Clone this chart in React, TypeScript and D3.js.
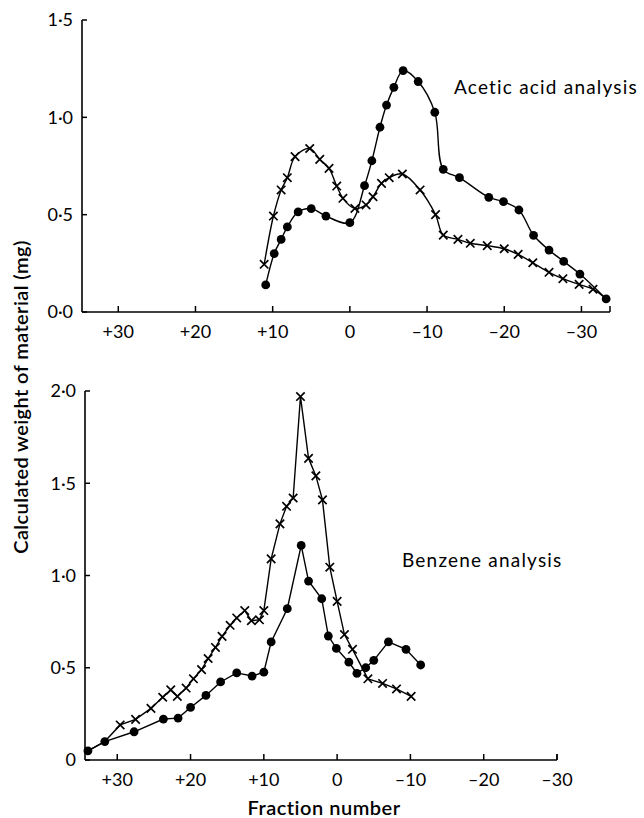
import React from "react";
import * as d3 from "d3";

// ---------- Data ----------
// Top panel: acetic acid analysis (fraction number, mg)
const topCrossX = [11.1, 9.9, 8.9, 8.1, 7.1, 5.2, 3.9, 2.7, 1.7, 0.9, -0.65, -2.1, -3.0, -4.1, -5.1, -6.8, -9.1, -11.1, -12.1, -14.0, -15.6, -17.8, -20.0, -21.8, -23.7, -25.8, -27.6, -29.7, -31.5, -33.2];
const topCrossY = [0.245, 0.493, 0.627, 0.69, 0.798, 0.84, 0.784, 0.738, 0.647, 0.584, 0.532, 0.55, 0.592, 0.661, 0.69, 0.709, 0.627, 0.5, 0.395, 0.373, 0.353, 0.341, 0.325, 0.296, 0.253, 0.204, 0.171, 0.142, 0.117, 0.067];
const topDotX = [10.9, 9.8, 8.9, 8.1, 6.7, 5.0, 3.1, 0, -1.9, -2.85, -3.9, -4.75, -5.7, -6.9, -8.85, -11.0, -12.1, -14.2, -18.0, -19.9, -21.9, -23.8, -25.8, -27.7, -29.8, -33.2];
const topDotY = [0.139, 0.3, 0.373, 0.437, 0.514, 0.531, 0.493, 0.459, 0.649, 0.777, 0.949, 1.063, 1.154, 1.24, 1.184, 1.026, 0.733, 0.69, 0.589, 0.567, 0.524, 0.394, 0.318, 0.26, 0.195, 0.067];

// Bottom panel: benzene analysis
const botCrossX = [34.0, 31.7, 29.6, 27.5, 25.4, 23.8, 22.7, 21.8, 20.6, 19.6, 18.5, 17.6, 16.6, 15.7, 14.6, 13.7, 12.6, 11.7, 10.6, 10.0, 9.0, 7.8, 6.9, 6.0, 5.0, 3.9, 2.9, 2.0, 1.0, 0.0, -1.0, -2.1, -4.2, -6.2, -8.1, -10.1];
const botCrossY = [0.05, 0.1, 0.19, 0.22, 0.28, 0.34, 0.38, 0.345, 0.39, 0.44, 0.49, 0.55, 0.61, 0.67, 0.73, 0.77, 0.81, 0.755, 0.76, 0.81, 1.09, 1.28, 1.375, 1.42, 1.97, 1.635, 1.54, 1.41, 1.045, 0.86, 0.68, 0.6, 0.44, 0.415, 0.385, 0.345];
const botDotX = [34.0, 31.7, 27.7, 23.7, 21.7, 20.0, 17.9, 15.9, 13.7, 11.6, 10.0, 9.0, 6.8, 4.9, 3.9, 2.1, 1.2, 0.1, -1.6, -2.7, -3.9, -5.0, -7.0, -9.4, -11.4];
const botDotY = [0.05, 0.1, 0.153, 0.222, 0.227, 0.285, 0.35, 0.423, 0.472, 0.455, 0.476, 0.64, 0.82, 1.163, 0.97, 0.874, 0.672, 0.605, 0.53, 0.47, 0.5, 0.54, 0.64, 0.6, 0.515];

// Cross markers hidden under shared points
const topCrossHidden = [29];
const botCrossHidden = [0, 1];

const xTicks = [30, 20, 10, 0, -10, -20, -30];
const xTickLabels = ["+30", "+20", "+10", "0", "–10", "–20", "–30"];
const topYTicks = [0, 0.5, 1.0, 1.5];
const topYLabels = ["0·0", "0·5", "1·0", "1·5"];
const botYTicks = [0, 0.5, 1.0, 1.5, 2.0];
const botYLabels = ["0", "0·5", "1·0", "1·5", "2·0"];

const FONT = "Lato, 'Open Sans', sans-serif";

type P = [number, number];
const zip = (xs: number[], ys: number[]): P[] => xs.map((x, i) => [x, ys[i]]);

function Cross({ cx, cy, s = 4.2 }: { cx: number; cy: number; s?: number }) {
  return (
    <path
      d={`M${cx - s},${cy - s}L${cx + s},${cy + s}M${cx - s},${cy + s}L${cx + s},${cy - s}`}
      stroke="#000"
      strokeWidth={1.7}
      fill="none"
    />
  );
}

function Panel({
  xDomain, xRange, yDomain, yRange, crosses, dots, crossHidden, curve,
  yTicks, yLabels, axisEnd, label, labelPos,
}: any) {
  const x = d3.scaleLinear().domain(xDomain).range(xRange);
  const y = d3.scaleLinear().domain(yDomain).range(yRange);
  const line = d3.line<P>().x((d) => x(d[0])).y((d) => y(d[1])).curve(curve);
  const y0 = y(0);
  const xEndPx = x(axisEnd);
  return (
    <g>
      {/* Y axis */}
      <line x1={xRange[0]} x2={xRange[0]} y1={y(yDomain[1])} y2={y0} stroke="#000" strokeWidth={1.6} />
      {yTicks.map((t: number, i: number) => (
        <g key={"yt" + i}>
          <line x1={xRange[0]} x2={xRange[0] + 5} y1={y(t)} y2={y(t)} stroke="#000" strokeWidth={1.5} />
          <text x={xRange[0] - 9} y={y(t)} dy="0.36em" textAnchor="end" fontFamily={FONT} fontSize={18}>
            {yLabels[i]}
          </text>
        </g>
      ))}
      {/* X axis */}
      <line x1={xRange[0]} x2={xEndPx} y1={y0} y2={y0} stroke="#000" strokeWidth={1.6} />
      {xTicks.map((t, i) => (
        <g key={"xt" + i}>
          <line x1={x(t)} x2={x(t)} y1={y0} y2={y0 - 6} stroke="#000" strokeWidth={1.5} />
          <text x={x(t)} y={y0 + 26} textAnchor="middle" fontFamily={FONT} fontSize={18}>
            {xTickLabels[i]}
          </text>
        </g>
      ))}
      <line x1={xEndPx} x2={xEndPx} y1={y0} y2={y0 - 6} stroke="#000" strokeWidth={1.5} />
      {/* Lines */}
      <path d={line(crosses) || ""} fill="none" stroke="#000" strokeWidth={1.4} />
      <path d={line(dots) || ""} fill="none" stroke="#000" strokeWidth={1.4} />
      {crosses.map((d: P, i: number) =>
        crossHidden.includes(i) ? null : <Cross key={"c" + i} cx={x(d[0])} cy={y(d[1])} />
      )}
      {dots.map((d: P, i: number) => (
        <circle key={"d" + i} cx={x(d[0])} cy={y(d[1])} r={4.4} fill="#000" />
      ))}
      <text x={labelPos[0]} y={labelPos[1]} fontFamily={FONT} fontSize={19} letterSpacing={1.2}>
        {label}
      </text>
    </g>
  );
}

export default function App() {
  return (
    <svg width={644} height={818} style={{ display: "block", position: "absolute", left: 0, top: 0, background: "#fff" }}>
      <rect width={644} height={818} fill="#fff" />
      <Panel
        xDomain={[34.7, -33.7]}
        xRange={[82, 610]}
        yDomain={[0, 1.5]}
        yRange={[312, 20]}
        crosses={zip(topCrossX, topCrossY)}
        dots={zip(topDotX, topDotY)}
        crossHidden={topCrossHidden}
        curve={d3.curveCatmullRom.alpha(0.5)}
        yTicks={topYTicks}
        yLabels={topYLabels}
        axisEnd={-33.7}
        label="Acetic acid analysis"
        labelPos={[454, 94]}
      />
      <Panel
        xDomain={[34.4, -30]}
        xRange={[85, 557]}
        yDomain={[0, 2]}
        yRange={[760, 391]}
        crosses={zip(botCrossX, botCrossY)}
        dots={zip(botDotX, botDotY)}
        crossHidden={botCrossHidden}
        curve={d3.curveLinear}
        yTicks={botYTicks}
        yLabels={botYLabels}
        axisEnd={-30}
        label="Benzene analysis"
        labelPos={[402, 567]}
      />
      <text
        transform="translate(28,397) rotate(-90)"
        textAnchor="middle"
        fontFamily={FONT}
        fontSize={20}
        fontWeight={600}
        letterSpacing={0.4}
      >
        Calculated weight of material (mg)
      </text>
      <text x={324} y={815} textAnchor="middle" fontFamily={FONT} fontSize={20} fontWeight={600} letterSpacing={0.5}>
        Fraction number
      </text>
    </svg>
  );
}
